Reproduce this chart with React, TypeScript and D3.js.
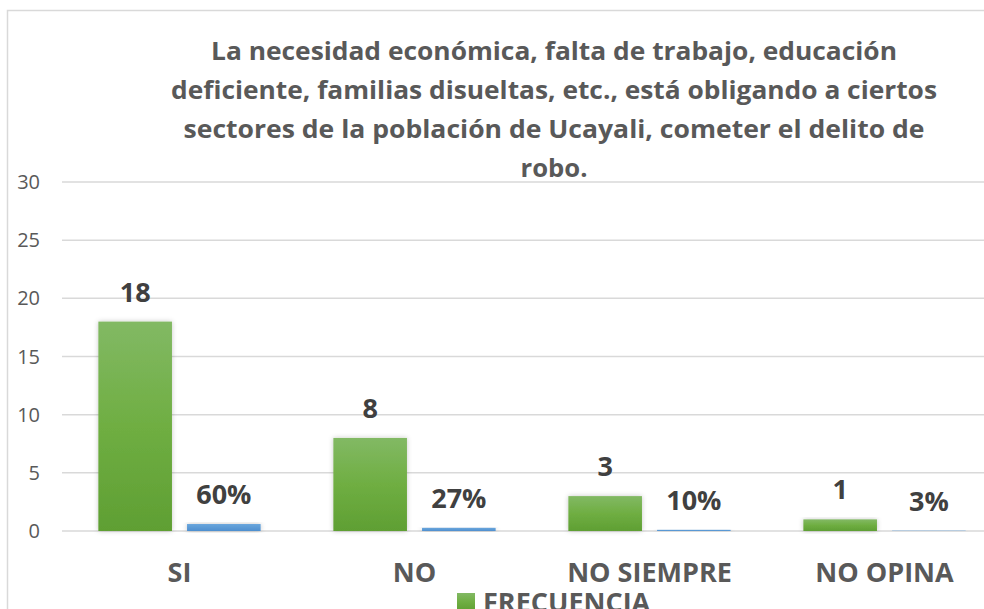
import React from "react";
import * as d3 from "d3";

const categories = ["SI", "NO", "NO SIEMPRE", "NO OPINA"];
const frecuencia = [18, 8, 3, 1];
const porcentaje = [0.6, 0.27, 0.1, 0.03];
const porcentajeLabels = ["60%", "27%", "10%", "3%"];
const yTicks = [0, 5, 10, 15, 20, 25, 30];
const titleLines = [
  "La necesidad económica, falta de trabajo, educación",
  "deficiente, familias disueltas, etc., está obligando a ciertos",
  "sectores de la población de Ucayali, cometer el delito de",
  "robo.",
];
const titleWidths = [686, 766, 741, 67];
const legendLabel = "FRECUENCIA";

const W = 984;
const H = 609;
const plotLeft = 62;
const plotRight = 1002;
const y0 = 531;
const y30 = 182;
const FONT = "'Open Sans', 'DejaVu Sans', sans-serif";

export default function App() {
  const x = d3.scaleBand<string>().domain(categories).range([plotLeft, plotRight]);
  const y = d3.scaleLinear().domain([0, 30]).range([y0, y30]);
  const inner = d3
    .scaleBand<string>()
    .domain(["f", "p"])
    .range([0, x.bandwidth()])
    .paddingInner(0.17)
    .paddingOuter(0.41);

  return (
    <svg
      width={W}
      height={H}
      style={{ position: "absolute", left: 0, top: 0, background: "#fff" }}
      fontFamily={FONT}
    >
      <defs>
        <linearGradient id="gGreen" x1="0" y1="0" x2="0" y2="1">
          <stop offset="0%" stopColor="#82b964" />
          <stop offset="50%" stopColor="#6fae42" />
          <stop offset="100%" stopColor="#5f9f33" />
        </linearGradient>
        <linearGradient id="gBlue" x1="0" y1="0" x2="0" y2="1">
          <stop offset="0%" stopColor="#6aa6dc" />
          <stop offset="100%" stopColor="#4e8fcf" />
        </linearGradient>
        <filter id="shadow" x="-20%" y="-20%" width="140%" height="140%">
          <feDropShadow dx="0" dy="0" stdDeviation="2.5" floodColor="#000" floodOpacity="0.22" />
        </filter>
      </defs>
      <rect x={0} y={0} width={W} height={H} fill="#fff" />
      {/* chart border */}
      <rect x={7.5} y={10.5} width={W + 20} height={H + 20} fill="none" stroke="#d9d9d9" strokeWidth={1.5} />

      {/* title */}
      {titleLines.map((t, i) => (
        <text
          key={i}
          x={554}
          y={60 + i * 39}
          textAnchor="middle"
          fontSize={25}
          fontWeight="bold"
          fill="#595959"
          textLength={titleWidths[i]}
          lengthAdjust="spacingAndGlyphs"
        >
          {t}
        </text>
      ))}

      {/* gridlines + y ticks */}
      {yTicks.map((t) => (
        <g key={t}>
          <line x1={plotLeft} x2={W} y1={y(t)} y2={y(t)} stroke="#d9d9d9" strokeWidth={1.5} />
          <text x={40} y={y(t) + 7} textAnchor="end" fontSize={20} fill="#595959">
            {t}
          </text>
        </g>
      ))}

      {/* bars */}
      {categories.map((c, i) => {
        const bx = x(c)!;
        const gx = bx + inner("f")!;
        const px = bx + inner("p")!;
        const bw = inner.bandwidth();
        return (
          <g key={c}>
            <rect
              x={gx}
              y={y(frecuencia[i])}
              width={bw}
              height={y0 - y(frecuencia[i])}
              fill="url(#gGreen)"
              filter="url(#shadow)"
            />
            <rect
              x={px}
              y={y(porcentaje[i])}
              width={bw}
              height={y0 - y(porcentaje[i])}
              fill="url(#gBlue)"
              filter="url(#shadow)"
            />
            <text
              x={gx + bw / 2}
              y={y(frecuencia[i]) - 20}
              textAnchor="middle"
              fontSize={27}
              fontWeight="bold"
              fill="#404040"
            >
              {frecuencia[i]}
            </text>
            <text
              x={px + bw / 2}
              y={y(porcentaje[i]) - 20}
              textAnchor="middle"
              fontSize={27}
              fontWeight="bold"
              fill="#404040"
            >
              {porcentajeLabels[i]}
            </text>
            <text
              x={bx + x.bandwidth() / 2}
              y={582}
              textAnchor="middle"
              fontSize={27}
              fontWeight="bold"
              fill="#595959"
            >
              {c}
            </text>
          </g>
        );
      })}

      {/* legend */}
      <rect x={457} y={593} width={18} height={18} fill="url(#gGreen)" />
      <text x={483} y={612} fontSize={27} fontWeight="bold" fill="#595959">
        {legendLabel}
      </text>
    </svg>
  );
}
